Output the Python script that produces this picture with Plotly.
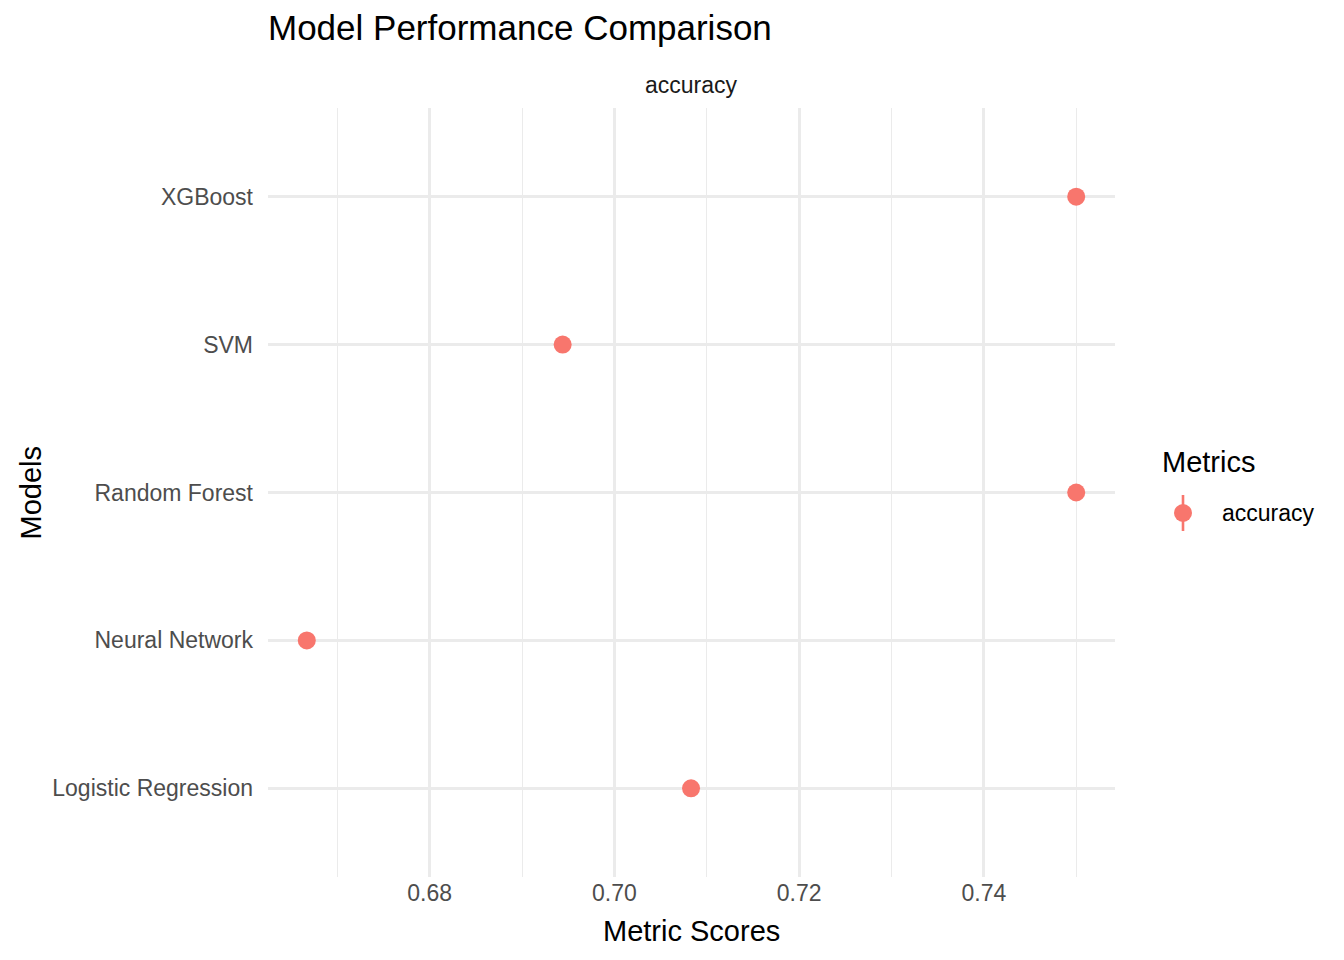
import plotly.graph_objects as go

models = ["Logistic Regression", "Neural Network", "Random Forest", "SVM", "XGBoost"]
accuracy = [0.7083, 0.6667, 0.75, 0.6944, 0.75]
x_ticks = [0.68, 0.70, 0.72, 0.74]
x_tick_labels = ["0.68", "0.70", "0.72", "0.74"]
metric_name = "accuracy"

FONT = "Liberation Sans, Arial, Helvetica, sans-serif"
RED = "#F8766D"
GRID = "#EBEBEB"

OFF = 8  # page body margin
W, H = 1344 - OFF, 960 - OFF
L, R, T, B = 260, 229, 100, 83
pw, ph = W - L - R, H - T - B

def px_x(px):
    return (px - OFF - L) / pw

def px_y(py):
    return (H - B - (py - OFF)) / ph

fig = go.Figure()
fig.add_trace(go.Scatter(
    x=accuracy, y=models, mode="markers",
    marker=dict(color=RED, size=18, line=dict(width=0)),
    name=metric_name, showlegend=False,
))

fig.update_layout(
    width=W, height=H,
    margin=dict(l=L, r=R, t=T, b=B, pad=0),
    paper_bgcolor="white", plot_bgcolor="white",
    font=dict(family=FONT, color="#4D4D4D"),
    title=dict(text="Model Performance Comparison", x=0, xref="paper", xanchor="left",
               yref="container", y=1 - (28 - OFF) / H, yanchor="middle",
               font=dict(size=35, color="black", family=FONT)),
    xaxis=dict(
        range=[0.6625, 0.7542], tickvals=x_ticks, ticktext=x_tick_labels,
        showgrid=True, gridcolor=GRID, gridwidth=2.7, zeroline=False, showline=False,
        ticks="", tickfont=dict(size=23, color="#4D4D4D"),
        minor=dict(dtick=0.01, tick0=0.67, showgrid=True, gridcolor=GRID, gridwidth=1.3, ticks=""),
        ticklabelstandoff=0,
    ),
    yaxis=dict(
        type="category", categoryorder="array", categoryarray=models, range=[-0.6, 4.6],
        showgrid=True, gridcolor=GRID, gridwidth=2.7, zeroline=False, showline=False,
        ticks="", tickfont=dict(size=23, color="#4D4D4D"), ticklabelstandoff=14,
    ),
    showlegend=False,
)

ann = [
    dict(text="accuracy", xref="paper", yref="paper", x=0.5, y=1, yshift=23,
         xanchor="center", yanchor="middle", showarrow=False,
         font=dict(size=23, color="#1A1A1A", family=FONT)),
    dict(text="Metric Scores", xref="paper", yref="paper", x=0.5, y=0, yshift=-54,
         xanchor="center", yanchor="middle", showarrow=False,
         font=dict(size=29, color="black", family=FONT)),
    dict(text="Models", xref="paper", yref="paper", x=0, xshift=30 - OFF - L, y=0.5,
         textangle=-90, xanchor="center", yanchor="middle", showarrow=False,
         font=dict(size=29, color="black", family=FONT)),
    dict(text="Metrics", xref="paper", yref="paper", x=px_x(1160), y=px_y(462),
         xanchor="left", yanchor="middle", showarrow=False,
         font=dict(size=29, color="black", family=FONT)),
    dict(text=metric_name, xref="paper", yref="paper", x=px_x(1220), y=px_y(513),
         xanchor="left", yanchor="middle", showarrow=False,
         font=dict(size=23, color="black", family=FONT)),
]
for a in ann:
    fig.add_annotation(**a)

kx, ky = px_x(1183), px_y(513)
fig.add_shape(type="line", xref="paper", yref="paper", xsizemode="pixel", ysizemode="pixel",
              xanchor=kx, yanchor=ky, x0=0, x1=0, y0=-18, y1=18,
              line=dict(color=RED, width=2.6))
fig.add_shape(type="circle", xref="paper", yref="paper", xsizemode="pixel", ysizemode="pixel",
              xanchor=kx, yanchor=ky, x0=-9, x1=9, y0=-9, y1=9,
              fillcolor=RED, line=dict(width=0))

fig.write_html("out.html")
